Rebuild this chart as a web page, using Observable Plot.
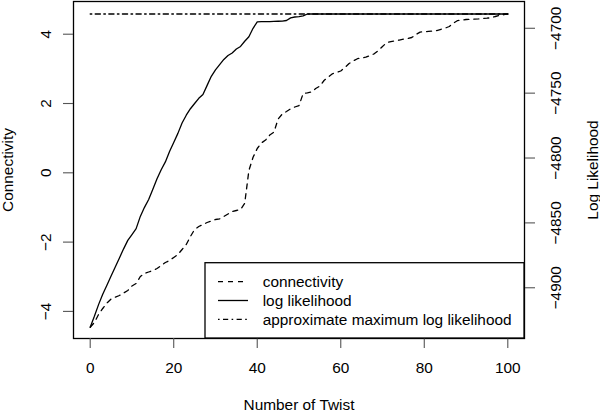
<!DOCTYPE html>
<html>
<head>
<meta charset="utf-8">
<script src="https://cdn.jsdelivr.net/npm/d3@7"></script>
<script src="https://cdn.jsdelivr.net/npm/@observablehq/plot@0.6"></script>
<style>
  html, body { margin: 0; padding: 0; background: #fff; }
  #chart { width: 600px; height: 411px; }
</style>
</head>
<body>
<div id="chart"></div>
<script>
// ---- data ----
const twist = [
  0,1,2,3,4,5,6,7,8,9,10,11,12,13,14,15,16,17,18,19,20,21,22,23,24,25,26,27,28,29,
  30,31,32,33,34,35,36,37,38,39,40,41,42,43,44,45,46,47,48,49,50,51,52,53,54,55,56,57,58,59,
  60,61,62,63,64,65,66,67,68,69,70,71,72,73,74,75,76,77,78,79,80,81,82,83,84,85,86,87,88,89,
  90,91,92,93,94,95,96,97,98,99,100
];
const connectivity = [
  -4.456, -4.320, -4.089, -3.916, -3.758, -3.642, -3.590, -3.541, -3.469, -3.397,
  -3.267, -3.195, -2.993, -2.906, -2.863, -2.820, -2.762, -2.675, -2.589, -2.531,
  -2.444, -2.358, -2.214, -2.069, -1.838, -1.636, -1.550, -1.492, -1.434, -1.391,
  -1.348, -1.328, -1.261, -1.189, -1.117, -1.088, -1.059, -0.880, 0.066, 0.450,
  0.701, 0.860, 0.947, 1.091, 1.172, 1.553, 1.697, 1.769, 1.847, 1.899,
  1.942, 2.289, 2.309, 2.332, 2.433, 2.505, 2.664, 2.765, 2.857, 2.895,
  2.938, 3.039, 3.154, 3.227, 3.293, 3.313, 3.336, 3.385, 3.434, 3.530,
  3.645, 3.760, 3.789, 3.810, 3.830, 3.856, 3.876, 3.905, 3.991, 4.061,
  4.072, 4.081, 4.092, 4.107, 4.141, 4.176, 4.222, 4.323, 4.395, 4.410,
  4.424, 4.430, 4.436, 4.442, 4.453, 4.462, 4.476, 4.511, 4.540, 4.563,
  4.583
];
const logLikelihood = [
  -4930.4, -4922, -4913, -4905, -4898, -4891, -4884, -4877, -4870, -4863.5,
  -4859, -4854.4, -4845, -4838, -4832, -4824, -4816, -4809, -4803, -4795,
  -4788, -4781, -4773, -4767, -4762, -4758, -4754, -4751, -4744, -4737,
  -4732, -4728, -4724, -4721, -4719, -4716, -4714, -4710, -4706.5, -4700,
  -4695, -4694.9, -4694.8, -4694.8, -4694.7, -4694.6, -4694.5, -4694, -4692, -4691.3,
  -4691, -4690.5, -4689, -4689, -4689, -4689, -4689, -4689, -4689, -4689,
  -4689, -4689, -4689, -4689, -4689, -4689, -4689, -4689, -4689, -4689,
  -4689, -4689, -4689, -4689, -4689, -4689, -4689, -4689, -4689, -4689,
  -4689, -4689, -4689, -4689, -4689, -4689, -4689, -4689, -4689, -4689,
  -4689, -4689, -4689, -4689, -4689, -4689, -4689, -4689, -4689, -4689,
  -4689
];
const approxMaxLogLik = -4689;
const xTicks = [0, 20, 40, 60, 80, 100];
const connTicks = [-4, -2, 0, 2, 4];
const llTicks = [-4900, -4850, -4800, -4750, -4700];
const xTitle = "Number of Twist";
const yTitleLeft = "Connectivity";
const yTitleRight = "Log Likelihood";
const legendLabels = ["connectivity", "log likelihood", "approximate maximum log likelihood"];

// ---- second axis: log likelihood mapped onto the connectivity scale ----
const ll2c = d3.scaleLinear().domain(d3.extent(logLikelihood)).range(d3.extent(connectivity));

const connData = twist.map((t, i) => ({t, v: connectivity[i]}));
const llData = twist.map((t, i) => ({t, v: ll2c(logLikelihood[i])}));
const maxData = [twist[0], twist[twist.length - 1]].map(t => ({t, v: ll2c(approxMaxLogLik)}));

const FONT = "'Liberation Sans', Arial, Helvetica, sans-serif";
const FS = 15.4;
const minus = s => String(s).replace("-", "\u2212");

const DASH = "5,5";
const DOTDASH = "1.6,3.4,5.2,3.4";
const LW = 1.3;

const plot = Plot.plot({
  width: 600,
  height: 411,
  marginLeft: 73,
  marginRight: 76,
  marginTop: 1,
  marginBottom: 73,
  x: {domain: [-4, 104]},
  y: {domain: [-4.782, 4.944]},
  style: {fontFamily: FONT, fontSize: FS + "px", background: "#fff", color: "#000", overflow: "visible"},
  marks: [
    // curves
    Plot.line(maxData, {x: "t", y: "v", stroke: "#000", strokeWidth: LW, strokeDasharray: DOTDASH}),
    Plot.line(llData, {x: "t", y: "v", stroke: "#000", strokeWidth: LW}),
    Plot.line(connData, {x: "t", y: "v", stroke: "#000", strokeWidth: LW, strokeDasharray: DASH}),
    // frame
    Plot.frame({stroke: "#000", strokeWidth: 1.3}),
    // x axis
    Plot.axisX(xTicks, {tickSize: 10, tickPadding: 14, stroke: "#555", strokeWidth: 1.1, label: null, tickFormat: d => d, fill: "#000"}),
    // left axis ticks + rotated labels
    Plot.axisY(connTicks, {anchor: "left", tickSize: 10, stroke: "#555", strokeWidth: 1.1, label: null, tickFormat: () => ""}),
    Plot.text(connTicks, {y: d => d, text: d => minus(d), frameAnchor: "left", dx: -23, rotate: -90, lineAnchor: "bottom", textAnchor: "middle", fill: "#000", fontSize: FS}),
    // right axis ticks + rotated labels
    Plot.axisY(llTicks.map(ll2c), {anchor: "right", tickSize: 10, stroke: "#555", strokeWidth: 1.1, label: null, tickFormat: () => ""}),
    Plot.text(llTicks, {y: d => ll2c(d), text: d => minus(d), frameAnchor: "right", dx: 36, rotate: -90, lineAnchor: "bottom", textAnchor: "middle", fill: "#000", fontSize: FS}),
    // axis titles
    Plot.text([xTitle], {text: d => d, frameAnchor: "bottom", dy: 71, lineAnchor: "bottom", textAnchor: "middle", fill: "#000", fontSize: FS}),
    Plot.text([yTitleLeft], {text: d => d, frameAnchor: "left", dx: -61, rotate: -90, lineAnchor: "bottom", textAnchor: "middle", fill: "#000", fontSize: FS}),
    Plot.text([yTitleRight], {text: d => d, frameAnchor: "right", dx: 73, rotate: -90, lineAnchor: "bottom", textAnchor: "middle", fill: "#000", fontSize: FS})
  ]
});

document.getElementById("chart").appendChild(plot);

// ---- legend (bottom-right, inside the frame) ----
const xs = plot.scale("x"), ys = plot.scale("y");
const right = xs.range[1], bottom = ys.range[0];
const svg = d3.select(plot);
const lg = svg.append("g").attr("text-anchor", "start");
const boxW = 319, boxH = 75.3;
lg.append("rect")
  .attr("x", right - boxW).attr("y", bottom - boxH)
  .attr("width", boxW).attr("height", boxH)
  .attr("fill", "#fff").attr("stroke", "#000").attr("stroke-width", 1.3);
const styles = [DASH, null, DOTDASH];
legendLabels.forEach((lab, i) => {
  const cy = bottom - boxH + 19 + i * 18.8;
  const ln = lg.append("line")
    .attr("x1", right - boxW + 13).attr("x2", right - boxW + 43)
    .attr("y1", cy).attr("y2", cy)
    .attr("stroke", "#000").attr("stroke-width", LW);
  if (styles[i]) ln.attr("stroke-dasharray", styles[i]);
  lg.append("text")
    .attr("x", right - boxW + 57.7).attr("y", cy).attr("dy", "0.36em")
    .attr("text-anchor", "start")
    .attr("font-family", FONT).attr("font-size", FS).attr("fill", "#000")
    .text(lab);
});
</script>
</body>
</html>
